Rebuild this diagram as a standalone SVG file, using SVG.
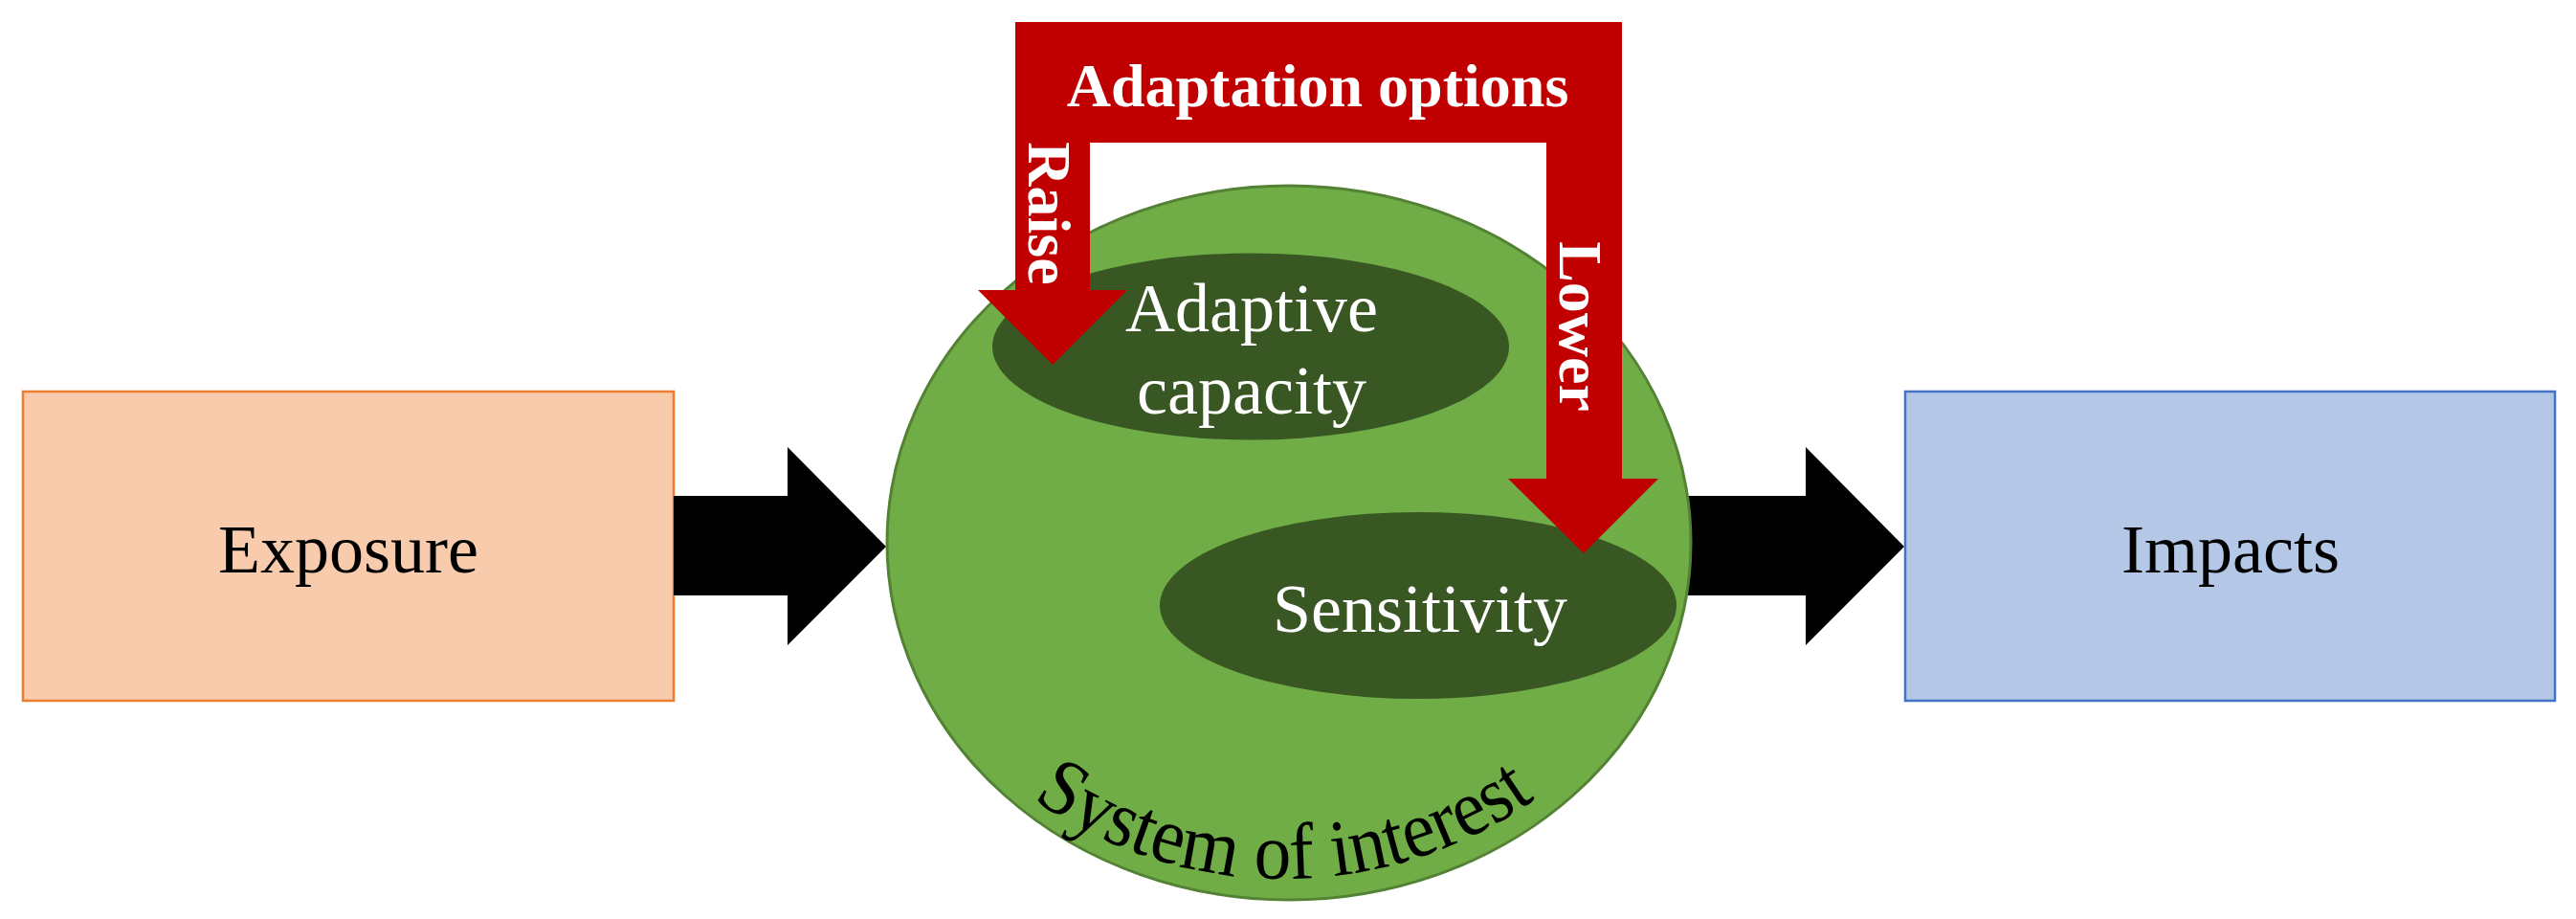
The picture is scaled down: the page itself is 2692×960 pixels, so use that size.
<svg xmlns="http://www.w3.org/2000/svg" width="2692" height="960" viewBox="0 0 2692 960">
<style>
.t{font-family:"Liberation Serif","Times New Roman",serif;}
.lbl{font-size:72px;fill:#000;text-anchor:middle;}
.wl{font-size:72px;fill:#fff;text-anchor:middle;}
.wb{font-size:64px;fill:#fff;font-weight:bold;text-anchor:middle;}
.blk{fill:#000;}
.inner{fill:#385723;}
</style>
<defs>
<path id="arcPath" d="M 887,463 A 455 455 0 0 0 1797,463"/>
</defs>
<rect width="2692" height="960" fill="#fff"/>
<g id="exposure">
<rect x="24" y="409" width="680" height="323" fill="#F8CBAD" stroke="#ED7D31" stroke-width="2.5"/>
<text class="t lbl" x="364" y="598">Exposure</text>
</g>
<g id="impacts">
<rect x="1991" y="409" width="679" height="323" fill="#B4C7E7" stroke="#4472C4" stroke-width="2.5"/>
<text class="t lbl" x="2331" y="598">Impacts</text>
</g>
<g id="connectors">
<path class="blk" d="M 704,518 L 823,518 L 823,467 L 926,571 L 823,674 L 823,622 L 704,622 Z"/>
<path class="blk" d="M 1740,518 L 1887,518 L 1887,467 L 1990,571 L 1887,674 L 1887,622 L 1740,622 Z"/>
</g>
<g id="system">
<ellipse cx="1347" cy="567" rx="420" ry="373" fill="#70AD47" stroke="#548235" stroke-width="3"/>
<text class="t" font-size="84" fill="#000"><textPath href="#arcPath" startOffset="50%" text-anchor="middle" textLength="560" lengthAdjust="spacingAndGlyphs">System of interest</textPath></text>
</g>
<g id="sensitivity">
<ellipse class="inner" cx="1482" cy="632.5" rx="270" ry="97.5"/>
<text class="t wl" x="1484" y="660">Sensitivity</text>
</g>
<g id="adaptive-capacity">
<ellipse class="inner" cx="1307" cy="362" rx="270" ry="97.5"/>
<text class="t wl" x="1308" y="346">Adaptive</text>
<text class="t wl" x="1308" y="432">capacity</text>
</g>
<g id="adaptation-options">
<path fill="#C00000" d="M 1061,23 L 1695,23 L 1695,500 L 1733,500 L 1655,578 L 1576,500 L 1616,500 L 1616,149 L 1139,149 L 1139,303 L 1178,303 L 1100,381 L 1022,303 L 1061,303 Z"/>
<text class="t wb" x="1377" y="111">Adaptation options</text>
<text class="t wb" transform="translate(1075,223) rotate(90)" x="0" y="0">Raise</text>
<text class="t wb" transform="translate(1630,341) rotate(90)" x="0" y="0">Lower</text>
</g>
</svg>
